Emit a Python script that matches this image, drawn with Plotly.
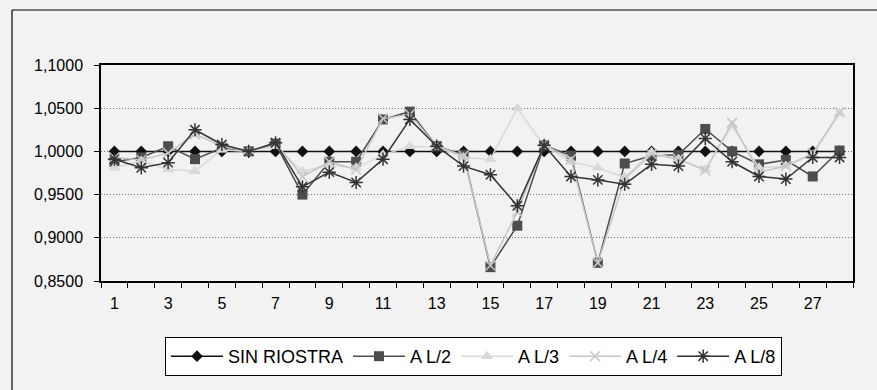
import plotly.graph_objects as go

categories = list(range(1, 29))

sin_riostra = [1.0000, 1.0000, 1.0000, 1.0000, 1.0000, 1.0000, 1.0000, 1.0000, 1.0000, 1.0000,
               1.0000, 1.0000, 1.0000, 1.0000, 1.0000, 1.0000, 1.0000, 1.0000, 1.0000, 1.0000,
               1.0000, 1.0000, 1.0000, 1.0000, 1.0000, 1.0000, 1.0000, 1.0000]
a_l2 = [0.988, 0.993, 1.006, 0.991, 1.004, 1.000, 1.009, 0.950, 0.988, 0.988,
        1.037, 1.046, 1.006, 0.996, 0.866, 0.914, 1.007, 0.995, 0.871, 0.986,
        0.995, 0.996, 1.026, 1.000, 0.985, 0.990, 0.971, 1.001]
a_l3 = [0.981, 0.989, 0.979, 0.977, 1.002, 1.000, 1.006, 0.977, 0.984, 0.981,
        0.996, 1.006, 1.005, 0.993, 0.991, 1.050, 1.006, 0.988, 0.981, 0.970,
        0.999, 0.991, 0.979, 1.030, 0.981, 0.983, 0.996, 1.044]
a_l4 = [0.993, 0.990, 0.998, 1.020, 1.006, 1.000, 1.010, 0.971, 0.988, 0.979,
        1.038, 1.043, 1.006, 0.995, 0.868, 0.930, 1.008, 0.991, 0.871, 0.968,
        0.997, 0.991, 0.978, 1.033, 0.976, 0.983, 0.998, 1.045]
a_l8 = [0.991, 0.981, 0.987, 1.025, 1.008, 1.000, 1.010, 0.959, 0.976, 0.964,
        0.991, 1.037, 1.006, 0.983, 0.973, 0.937, 1.007, 0.971, 0.967, 0.962,
        0.985, 0.983, 1.015, 0.988, 0.971, 0.968, 0.993, 0.993]

y_tickvals = [0.85, 0.90, 0.95, 1.00, 1.05, 1.10]
y_ticktext = ["0,8500", "0,9000", "0,9500", "1,0000", "1,0500", "1,1000"]
x_tickvals = [1, 3, 5, 7, 9, 11, 13, 15, 17, 19, 21, 23, 25, 27]
x_ticktext = ["1", "3", "5", "7", "9", "11", "13", "15", "17", "19", "21", "23", "25", "27"]

FONT = "Liberation Sans, Arial, sans-serif"

series = [
    ("SIN RIOSTRA", sin_riostra, "#111111", dict(symbol="diamond", size=9, color="#111111")),
    ("A L/2", a_l2, "#4d4d4d", dict(symbol="square", size=10, color="#4d4d4d")),
    ("A L/3", a_l3, "#d9d9d9", dict(symbol="triangle-up", size=11, color="#d9d9d9")),
    ("A L/4", a_l4, "#c6c6c6", dict(symbol="x-thin-open", size=10, color="#c6c6c6",
                                   line=dict(width=1.5, color="#c6c6c6"))),
    ("A L/8", a_l8, "#333333", dict(symbol="asterisk-open", size=11, color="#333333",
                                   line=dict(width=1.5, color="#333333"))),
]

fig = go.Figure()
for name, vals, col, mk in series:
    fig.add_trace(go.Scatter(x=categories, y=vals, name=name, mode="lines+markers",
                             line=dict(color=col, width=1.5), marker=mk))

W, H = 877, 390
L, R, T, B = 101, 853, 65, 281
pw, ph = R - L, B - T


def px_x(px):
    return (px - L) / pw


def px_y(py):
    return (B - py) / ph


fig.update_layout(
    width=W, height=H,
    margin=dict(l=L, r=W - R, t=T, b=H - B),
    paper_bgcolor="#f2f2f2", plot_bgcolor="#f2f2f2",
    font=dict(family=FONT, size=16, color="#000000"),
    showlegend=True,
    legend=dict(orientation="h", x=px_x(165), y=px_y(337), xanchor="left", yanchor="top",
                bgcolor="#ffffff", bordercolor="#000000", borderwidth=1,
                font=dict(family=FONT, size=18, color="#000000"),
                itemwidth=52, traceorder="normal"),
    xaxis=dict(range=[0.5, 28.5], tickmode="array", tickvals=x_tickvals, ticktext=x_ticktext,
               ticks="outside", ticklen=7, tickcolor="rgba(0,0,0,0)",
               showline=True, linecolor="#000000", linewidth=1.5, mirror=True,
               showgrid=False, zeroline=False,
               minor=dict(tick0=0.5, dtick=1, ticks="outside", ticklen=5,
                          tickcolor="#000000", showgrid=False),
               tickfont=dict(family=FONT, size=16)),
    yaxis=dict(range=[0.85, 1.10], tickmode="array", tickvals=y_tickvals, ticktext=y_ticktext,
               ticks="outside", ticklen=5, tickcolor="#000000",
               ticklabelstandoff=8,
               showline=True, linecolor="#000000", linewidth=1.5, mirror=True,
               showgrid=True, gridcolor="#707070", griddash="1px,2px", gridwidth=1,
               zeroline=False, tickfont=dict(family=FONT, size=16)),
    shapes=[
        dict(type="line", xref="paper", yref="paper", x0=px_x(12), x1=px_x(12),
             y0=px_y(10), y1=px_y(390), line=dict(color="#000000", width=1.2)),
        dict(type="line", xref="paper", yref="paper", x0=px_x(12), x1=px_x(877),
             y0=px_y(10), y1=px_y(10), line=dict(color="#000000", width=1.2)),
    ],
)

page_css = ("document.body.style.margin='0';"
            "document.body.style.overflow='hidden';"
            "document.body.style.background='#f2f2f2';")

fig.write_html("out.html", post_script=page_css, config={"displayModeBar": False})
